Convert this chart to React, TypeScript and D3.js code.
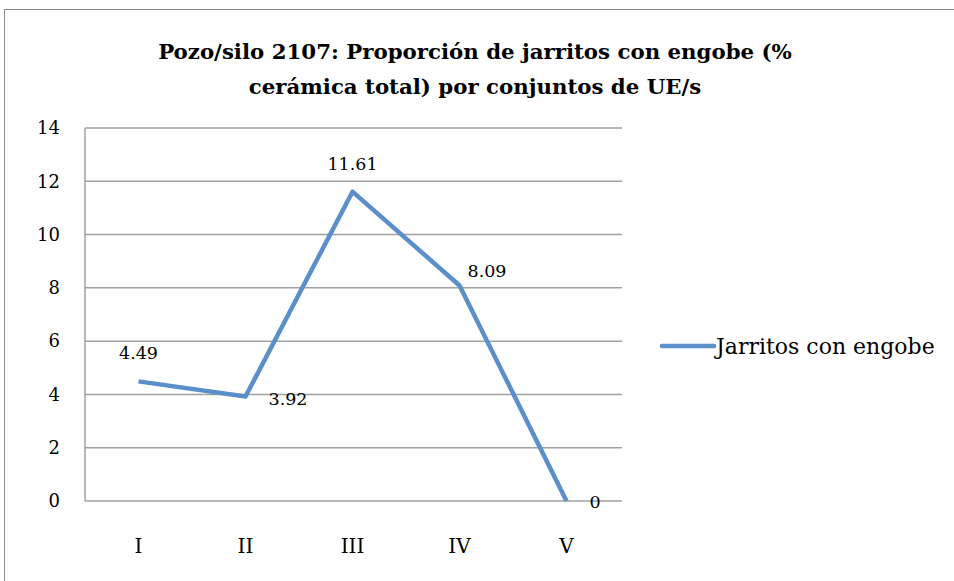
import { useEffect, useRef } from 'react'
import * as d3 from 'd3'

const categories = ['I', 'II', 'III', 'IV', 'V']
const values = [4.49, 3.92, 11.61, 8.09, 0]
const valueLabels = ['4.49', '3.92', '11.61', '8.09', '0']
const yTicks = [0, 2, 4, 6, 8, 10, 12, 14]
const seriesName = 'Jarritos con engobe'
const titleLines = [
  'Pozo/silo 2107: Proporción de jarritos con engobe (%',
  'cerámica total) por conjuntos de UE/s',
]

// label placement per point: [dx, dy, anchor]
const labelPos: [number, number, string][] = [
  [0, -28, 'middle'],
  [23, 2, 'start'],
  [0, -28, 'middle'],
  [8, -15, 'start'],
  [23, 1, 'start'],
]

function App() {
  const svgRef = useRef<SVGSVGElement>(null)

  useEffect(() => {
    const width = 954
    const height = 581
    const font = 'DejaVu Serif'
    const blue = '#5B8FC9'
    const grid = '#A0A0A0'

    const svg = d3.select(svgRef.current)
    svg.selectAll('*').remove()
    svg.attr('width', width).attr('height', height)

    svg.append('rect')
      .attr('width', width).attr('height', height).attr('fill', '#fff')
    // chart border
    svg.append('rect')
      .attr('x', 4.5).attr('y', 9.5)
      .attr('width', 970).attr('height', 600)
      .attr('fill', 'none').attr('stroke', '#8c8c8c').attr('stroke-width', 1)

    const x = d3.scaleBand().domain(categories).range([85, 620])
    const y = d3.scaleLinear().domain([0, 14]).range([501, 128])

    // gridlines
    svg.append('g')
      .selectAll('line')
      .data(yTicks)
      .join('line')
      .attr('x1', 85).attr('x2', 622)
      .attr('y1', d => y(d)).attr('y2', d => y(d))
      .attr('stroke', grid).attr('stroke-width', 1.5)

    svg.append('line')
      .attr('x1', 85).attr('x2', 85)
      .attr('y1', y(14)).attr('y2', y(0))
      .attr('stroke', grid).attr('stroke-width', 1.5)

    // y labels
    svg.append('g')
      .selectAll('text')
      .data(yTicks)
      .join('text')
      .attr('x', 60).attr('y', d => y(d))
      .attr('dy', '0.35em')
      .attr('text-anchor', 'end')
      .attr('font-family', font).attr('font-size', 18)
      .text(d => d)

    // x labels
    svg.append('g')
      .selectAll('text')
      .data(categories)
      .join('text')
      .attr('x', d => x(d)! + x.bandwidth() / 2).attr('y', 546)
      .attr('dy', '0.35em')
      .attr('text-anchor', 'middle')
      .attr('font-family', font).attr('font-size', 20)
      .text(d => d)

    const line = d3.line<number>()
      .x((_, i) => x(categories[i])! + x.bandwidth() / 2)
      .y(d => y(d))

    svg.append('path')
      .datum(values)
      .attr('d', line)
      .attr('fill', 'none')
      .attr('stroke', blue)
      .attr('stroke-width', 4.5)
      .attr('stroke-linejoin', 'round')

    // data labels
    svg.append('g')
      .selectAll('text')
      .data(values)
      .join('text')
      .attr('x', (_, i) => x(categories[i])! + x.bandwidth() / 2 + labelPos[i][0])
      .attr('y', (d, i) => y(d) + labelPos[i][1])
      .attr('dy', '0.35em')
      .attr('text-anchor', (_, i) => labelPos[i][2])
      .attr('font-family', font).attr('font-size', 17.5)
      .text((_, i) => valueLabels[i])

    // title
    svg.append('g')
      .selectAll('text')
      .data(titleLines)
      .join('text')
      .attr('x', 475).attr('y', (_, i) => 52 + i * 35)
      .attr('dy', '0.35em')
      .attr('text-anchor', 'middle')
      .attr('font-family', font).attr('font-weight', 'bold').attr('font-size', 21.3)
      .text(d => d)

    // legend
    svg.append('line')
      .attr('x1', 662).attr('x2', 714)
      .attr('y1', 346).attr('y2', 346)
      .attr('stroke', blue).attr('stroke-width', 4.5)
      .attr('stroke-linecap', 'round')
    svg.append('text')
      .attr('x', 716).attr('y', 346)
      .attr('dy', '0.35em')
      .attr('font-family', font).attr('font-size', 22)
      .text(seriesName)
  }, [])

  return <svg ref={svgRef} style={{ display: 'block', position: 'absolute', left: 0, top: 0 }} />
}

export default App
